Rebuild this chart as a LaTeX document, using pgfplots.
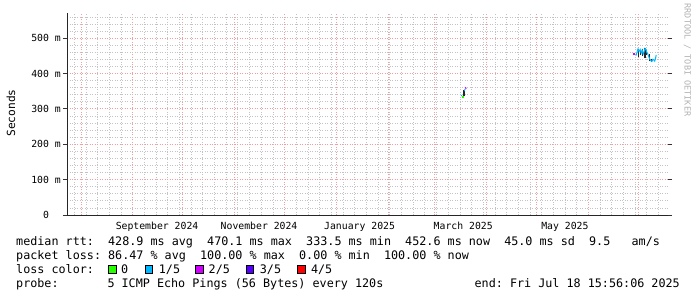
\documentclass[border=0pt]{standalone}
\usepackage{pgfplots}
\pgfplotsset{compat=1.18}
\usepackage{fontspec}
\setmainfont{DejaVu Sans Mono}
\definecolor{minorgrid}{RGB}{195,195,195}
\definecolor{majorgrid}{RGB}{238,160,160}
\definecolor{arrowred}{RGB}{150,25,25}
\definecolor{lossA}{RGB}{38,255,0}
\definecolor{lossB}{RGB}{0,184,255}
\definecolor{lossC}{RGB}{208,0,255}
\definecolor{lossD}{RGB}{85,0,255}
\definecolor{lossE}{RGB}{255,0,0}
\newcommand\legfont{\fontsize{11.75bp}{14bp}\selectfont}
\newcommand\tickfont{\fontsize{9.8bp}{11bp}\selectfont}
\frenchspacing
\begin{document}
\begin{tikzpicture}
\path[use as bounding box] (0,0) rectangle (697bp,-297bp);
\begin{axis}[
  at={(67bp,-215bp)}, anchor=south west,
  scale only axis, width=601bp, height=202bp,
  xmin=-161.34, xmax=198.66, ymin=0, ymax=571,
  axis line style={draw=none},
  xtick={-153,-122,-92,-61,-31,0,31,59,90,120,151,181},
  xticklabels={},
  minor xtick={-157,-150,...,193},
  extra x ticks={-107.4,-46.3,13.9,76.0,136.9},
  extra x tick labels={September 2024,November 2024,January 2025,March 2025,May 2025},
  extra x tick style={grid=none},
  xtick style={draw=none},
  ytick={0,100,...,500},
  yticklabels={0\phantom{ m},100 m,200 m,300 m,400 m,500 m},
  minor ytick={20,40,...,560},
  ytick style={black!80, line width=0.8bp},
  tick align=outside, major tick length=4bp, minor tick length=0pt,
  grid=both,
  major grid style={majorgrid, line width=0.75bp, dash pattern=on 1bp off 1.5bp},
  minor grid style={minorgrid, line width=0.75bp, dash pattern=on 1bp off 1.5bp},
  ticklabel style={font=\tickfont},
  xticklabel style={anchor=north, inner sep=0pt, yshift=-3bp},
  yticklabel style={anchor=east, inner sep=0pt, xshift=-2bp},
  unbounded coords=jump,
]
% smoke (spread of pings)
\addplot[black!85, line width=1.2bp] coordinates {
 (76.5,336) (76.5,353) (76.5,nan)
 (181.2,446) (181.2,470) (181.2,nan)
 (182.4,452) (182.4,467) (182.4,nan)
 (183.5,450) (183.5,470) (183.5,nan)
 (184.9,443) (184.9,472) (184.9,nan)
 (186.0,452) (186.0,465) (186.0,nan)
 (187.4,435) (187.4,455) (187.4,nan)
 (188.6,433) (188.6,441)
};
% median rtt, coloured by loss
\addplot[lossB, line width=1bp] coordinates {(74.6,338) (75.3,337)};
\addplot[lossA, line width=1.2bp] coordinates {(75.3,333.5) (76.4,333.5)};
\addplot[lossB, line width=1bp] coordinates {(76.6,350) (77.1,356)};
\addplot[lossC, line width=1.2bp] coordinates {(77.2,361) (77.8,357)};
\addplot[lossC, line width=1.2bp] coordinates {(177.9,455) (179.1,455)};
\addplot[lossB, line width=1bp] coordinates {
 (179.1,452) (179.6,452) (180.2,462) (180.7,469.6) (181.3,462) (182.0,468)
 (182.6,458) (183.2,466) (183.8,455) (184.4,462) (184.9,471) (185.5,468)
 (186.1,458) (186.6,455) (187.2,447) (187.8,440) (188.4,436) (189.0,434)
 (189.6,440) (190.2,438) (190.7,435) (191.2,443) (191.6,452.6)
};
% axis lines and arrows
\draw[black!85, line width=1bp] ([xshift=-5bp]rel axis cs:0,0) -- ([xshift=1bp]rel axis cs:1,0);
\fill[arrowred] ([xshift=1bp]rel axis cs:1,0) ++(0,3bp) -- ++(5bp,-3bp) -- ++(-5bp,-3bp) -- cycle;
\draw[black!85, line width=1bp] ([yshift=-4bp]rel axis cs:0,0) -- ([yshift=1bp]rel axis cs:0,1);
\fill[arrowred] ([yshift=1bp]rel axis cs:0,1) ++(-3bp,0) -- ++(3bp,5bp) -- ++(3bp,-5bp) -- cycle;
\end{axis}
\node[rotate=90, inner sep=0pt, font=\fontsize{11.2bp}{12bp}\selectfont] at (11bp,-113bp) {Seconds};
\node[rotate=-90, inner sep=0pt, text=black!30, font=\fontsize{8.5bp}{9bp}\selectfont] at (687.5bp,-60bp) {RRDTOOL / TOBI OETIKER};
% legend
\node[anchor=base west, inner sep=0pt, font=\legfont] at (16bp,-245bp) {median rtt:\ \ 428.9 ms avg\ \ 470.1 ms max\ \ 333.5 ms min\ \ 452.6 ms now\ \ 45.0 ms sd\ \ 9.5\ \ \ am/s};
\node[anchor=base west, inner sep=0pt, font=\legfont] at (16bp,-259.5bp) {packet loss: 86.47 \% avg\ \ 100.00 \% max\ \ 0.00 \% min\ \ 100.00 \% now};
\node[anchor=base west, inner sep=0pt, font=\legfont] at (16bp,-273.5bp) {loss color:};
\filldraw[fill=lossA, draw=black, line width=0.8bp] (108.5bp,-265bp) rectangle (116bp,-273bp);
\filldraw[fill=lossB, draw=black, line width=0.8bp] (145bp,-265bp) rectangle (152.5bp,-273bp);
\filldraw[fill=lossC, draw=black, line width=0.8bp] (195.6bp,-265bp) rectangle (203.1bp,-273bp);
\filldraw[fill=lossD, draw=black, line width=0.8bp] (246.3bp,-265bp) rectangle (253.8bp,-273bp);
\filldraw[fill=lossE, draw=black, line width=0.8bp] (297.5bp,-265bp) rectangle (305bp,-273bp);
\node[anchor=base west, inner sep=0pt, font=\legfont] at (121bp,-273.5bp) {0};
\node[anchor=base west, inner sep=0pt, font=\legfont] at (158.7bp,-273.5bp) {1/5};
\node[anchor=base west, inner sep=0pt, font=\legfont] at (208.5bp,-273.5bp) {2/5};
\node[anchor=base west, inner sep=0pt, font=\legfont] at (259.7bp,-273.5bp) {3/5};
\node[anchor=base west, inner sep=0pt, font=\legfont] at (310.8bp,-273.5bp) {4/5};
\node[anchor=base west, inner sep=0pt, font=\legfont] at (16bp,-287.7bp) {probe:};
\node[anchor=base west, inner sep=0pt, font=\legfont] at (107.3bp,-287.7bp) {5 ICMP Echo Pings (56 Bytes) every 120s};
\node[anchor=base east, inner sep=0pt, font=\legfont] at (680bp,-287.7bp) {end: Fri Jul 18 15:56:06 2025};
\end{tikzpicture}
\end{document}
